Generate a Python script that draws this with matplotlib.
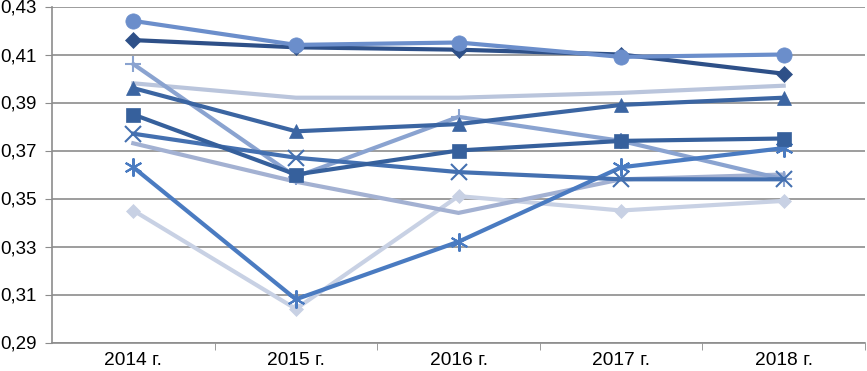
import matplotlib
matplotlib.use("Agg")
import matplotlib.pyplot as plt
from matplotlib.ticker import FixedLocator, FuncFormatter

years = ["2014 г.", "2015 г.", "2016 г.", "2017 г.", "2018 г."]

s_circle = [0.424, 0.414, 0.415, 0.409, 0.410]
s_diamond_dark = [0.416, 0.413, 0.412, 0.410, 0.402]
s_plus = [0.406, 0.359, 0.384, 0.374, 0.358]
s_plain_light = [0.398, 0.392, 0.392, 0.394, 0.397]
s_triangle = [0.396, 0.378, 0.381, 0.389, 0.392]
s_square = [0.385, 0.360, 0.370, 0.374, 0.375]
s_cross = [0.377, 0.367, 0.361, 0.358, 0.358]
s_plain_mid = [0.373, 0.357, 0.344, 0.358, 0.360]
s_star = [0.363, 0.308, 0.332, 0.363, 0.371]
s_diamond_light = [0.345, 0.304, 0.351, 0.345, 0.349]

# (values, color, marker, markersize)
series = [
    (s_diamond_light, "#c8d1e4", "D", 7),
    (s_plain_mid, "#a3b1d2", None, 0),
    (s_plain_light, "#bac5dc", None, 0),
    (s_plus, "#8aa3d0", "+", 12),
    (s_star, "#4a7bc1", (6, 2, 0), 13),
    (s_cross, "#4470b0", "x", 11),
    (s_square, "#36609c", "s", 10),
    (s_triangle, "#3b65a2", "^", 10),
    (s_diamond_dark, "#2e5088", "D", 8),
    (s_circle, "#6b8ecb", "o", 11),
]

plt.rcParams["font.family"] = ["Liberation Sans", "DejaVu Sans"]

fig = plt.figure(figsize=(8.67, 3.71), dpi=100)
ax = fig.add_axes([52 / 867, 1 - 342.5 / 371, 813 / 867, 336 / 371])

x = list(range(len(years)))
for vals, color, marker, ms in series:
    ax.plot(x, vals, color=color, lw=3.0, marker=marker, markersize=ms,
            markeredgewidth=1.5 if marker in ("+", "x", (6, 2, 0)) else 0.5,
            markeredgecolor=color, solid_joinstyle="miter", zorder=3)

ax.set_xlim(-0.5, len(years) - 0.5)
ax.set_ylim(0.29, 0.43)
ax.yaxis.set_major_locator(FixedLocator([0.29 + 0.02 * i for i in range(8)]))
ax.yaxis.set_major_formatter(FuncFormatter(lambda v, p: f"{v:.2f}".replace(".", ",")))
ax.set_xticks(x)
ax.set_xticklabels(years)
ax.set_xticks([i + 0.5 for i in range(len(years))], minor=True)

ax.grid(axis="y", color="#8c8c8c", lw=1.2, zorder=0)
for side in ("top", "right"):
    ax.spines[side].set_visible(False)
for side in ("left", "bottom"):
    ax.spines[side].set_color("#8c8c8c")
    ax.spines[side].set_linewidth(1.2)

ax.tick_params(axis="y", length=5, color="#8c8c8c", labelsize=13.5, pad=6)
ax.tick_params(axis="x", which="major", length=0, labelsize=13.8, pad=7)
ax.tick_params(axis="x", which="minor", length=5, color="#8c8c8c")

fig.savefig("out.png", dpi=100)
